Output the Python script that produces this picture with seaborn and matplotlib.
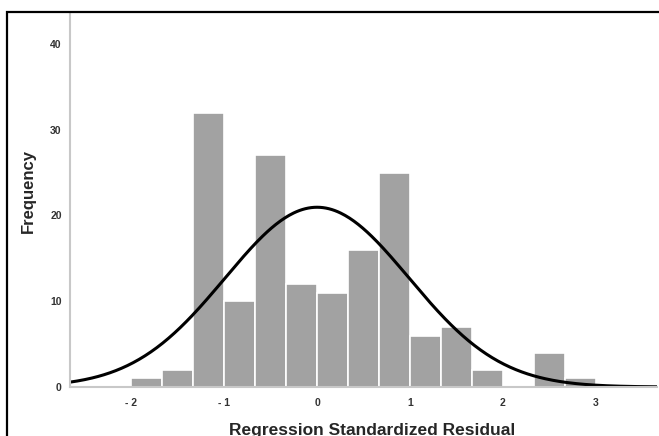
import numpy as np
import seaborn as sns
import matplotlib.pyplot as plt
from matplotlib.patches import Rectangle

# Histogram of regression standardized residuals (bin width 1/3)
bin_edges = [-2.0, -5/3, -4/3, -1.0, -2/3, -1/3, 0.0, 1/3, 2/3, 1.0,
             4/3, 5/3, 2.0, 7/3, 8/3, 3.0]
counts = [1, 2, 32, 10, 27, 12, 11, 16, 25, 6, 7, 2, 0, 4, 1]

# Normal curve parameters
curve_mean = 0.0
curve_std = 0.99

x_ticks = [-2, -1, 0, 1, 2, 3]
x_tick_labels = ["- 2", "- 1", "0", "1", "2", "3"]
y_ticks = [0, 10, 20, 30, 40]

sns.set_theme(style="white")
plt.rcParams['font.family'] = ['Liberation Sans', 'DejaVu Sans']

fig = plt.figure(figsize=(6.59, 4.36), dpi=100)
ax = fig.add_axes([70/659, 49/436, 587/659, 374/436])

centers = [(a + b) / 2 for a, b in zip(bin_edges[:-1], bin_edges[1:])]
sns.histplot(x=centers, weights=counts, bins=bin_edges, ax=ax,
             color="#a2a2a2", alpha=1, edgecolor="white", linewidth=1.2)

# normal curve scaled to counts
n_total = sum(counts)
width = bin_edges[1] - bin_edges[0]
xs = np.linspace(-2.66, 3.66, 400)
ys = n_total * width * np.exp(-0.5 * ((xs - curve_mean) / curve_std) ** 2) / (curve_std * np.sqrt(2 * np.pi))
sns.lineplot(x=xs, y=ys, ax=ax, color="black", linewidth=2.2)

ax.set_xlim(-2.66, 3.66)
ax.set_ylim(0, 43.6)
ax.set_xticks(x_ticks)
ax.set_xticklabels(x_tick_labels)
ax.set_yticks(y_ticks)
ax.tick_params(axis="both", labelsize=7.5, colors="#cccccc", labelcolor="#333333",
               length=3, width=0.8, direction="in")
ax.tick_params(axis="x", pad=8)
ax.tick_params(axis="y", pad=6)
for lab in ax.get_xticklabels() + ax.get_yticklabels():
    lab.set_fontweight("bold")

for side in ["top", "right"]:
    ax.spines[side].set_visible(False)
for side in ["left", "bottom"]:
    ax.spines[side].set_color("#c8c8c8")
    ax.spines[side].set_linewidth(1.5)

ax.set_xlabel("Regression Standardized Residual", fontsize=12.5, fontweight="bold")
ax.set_ylabel("Frequency", fontsize=12, fontweight="bold")
ax.xaxis.set_label_coords(0.514, -0.115)
ax.xaxis.label.set_va("center")
ax.yaxis.set_label_coords(-0.058, 0.524)

# outer frame
fig.add_artist(Rectangle((7/659, -0.1), 1.2, (436 - 12)/436 + 0.1, transform=fig.transFigure,
                         fill=False, edgecolor="black", linewidth=1.6))

fig.savefig("out.png", dpi=100)
